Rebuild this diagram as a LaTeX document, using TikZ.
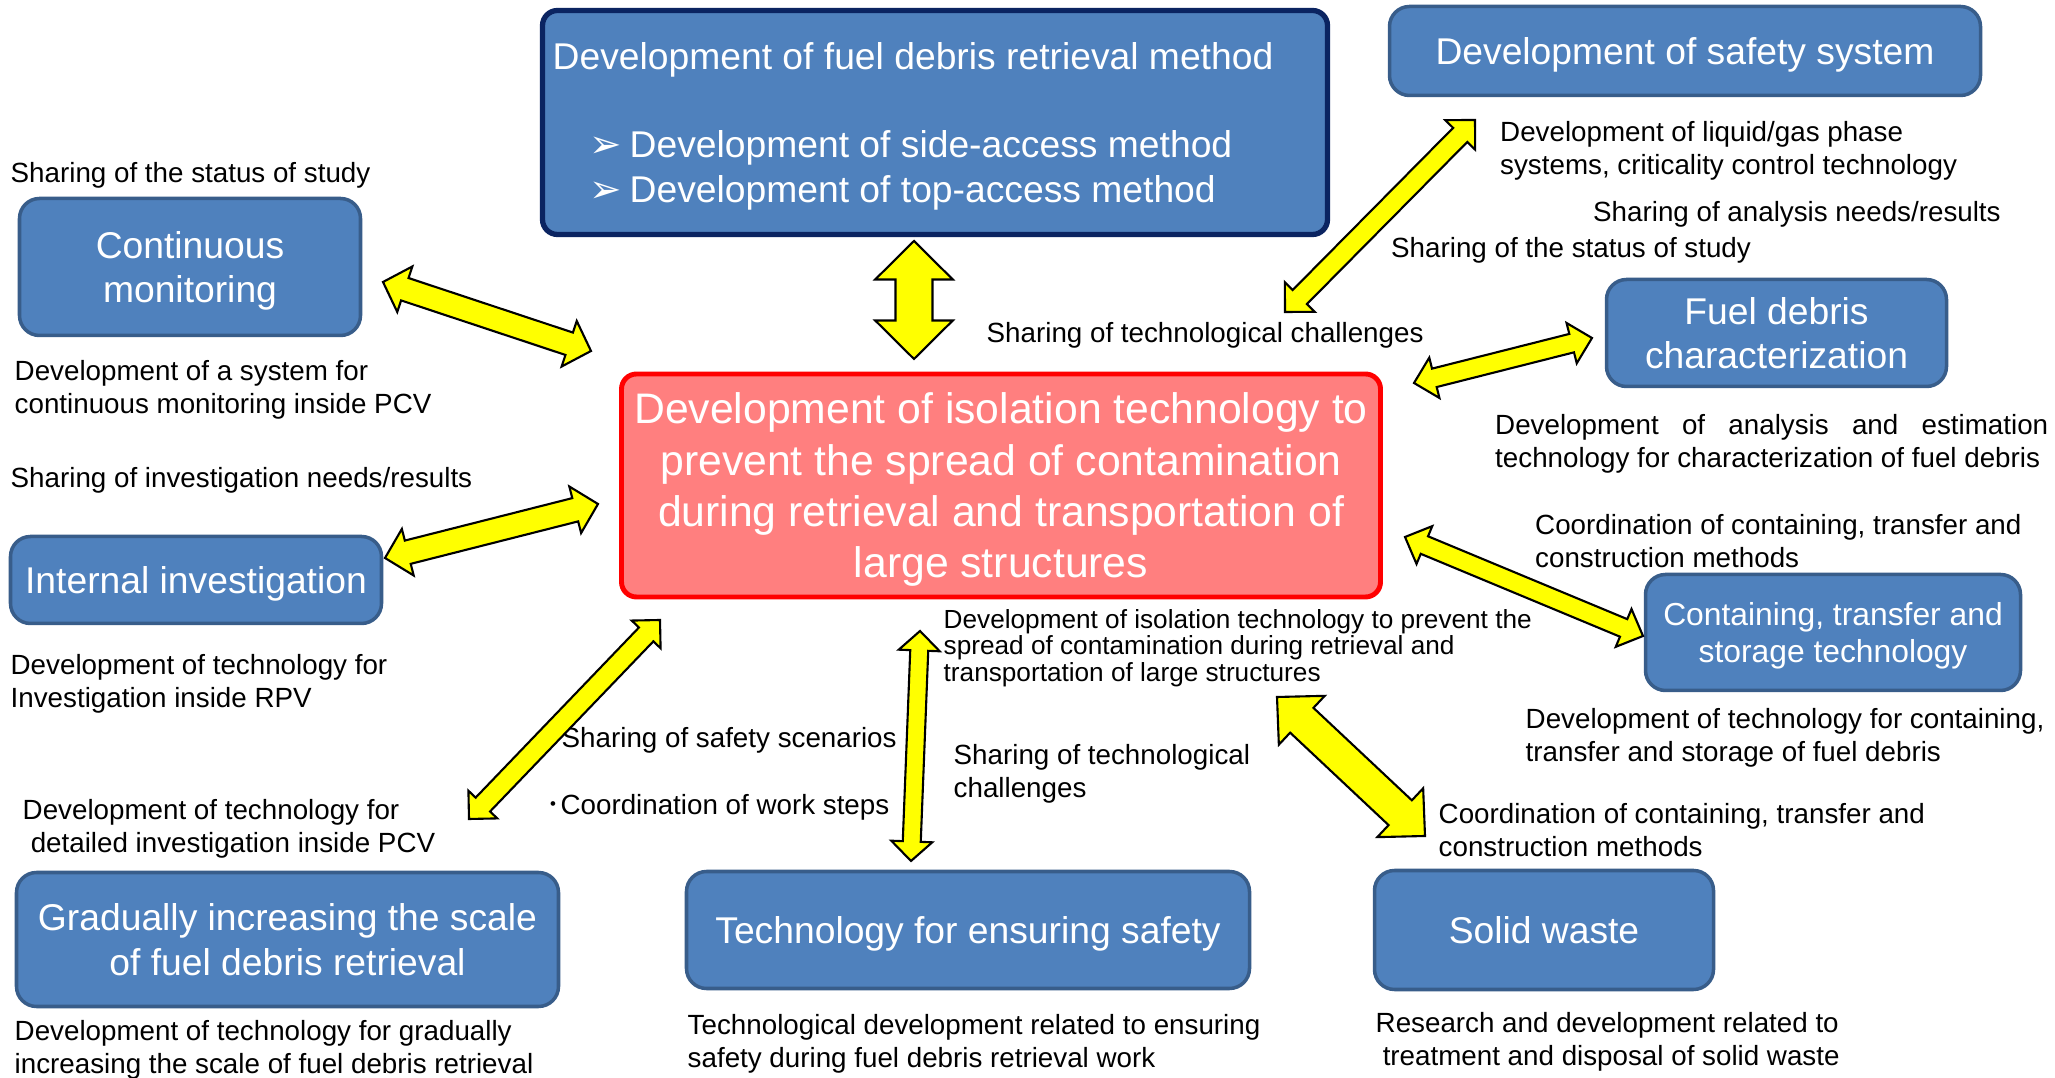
\documentclass[tikz,border=0pt]{standalone}
\usepackage{fontspec}
\setmainfont{Liberation Sans}
\newfontfamily\symfont{DejaVu Sans}
\newfontfamily\cjkfont{Noto Sans CJK JP}
\usepackage{tikz}
\usetikzlibrary{calc}

\definecolor{boxblue}{HTML}{4F81BD}
\definecolor{boxedge}{HTML}{385D8A}
\definecolor{navyedge}{HTML}{0B2461}
\definecolor{isofill}{HTML}{FF7F7F}
\definecolor{arrowyellow}{HTML}{FFFF00}

\tikzset{
  bluebox/.style={draw=boxedge,fill=boxblue,line width=1pt,rounded corners=0.2cm,text=white,align=center,inner sep=0pt,text depth=0pt,font=\fontsize{10.6}{12.7}\selectfont},
  note/.style={anchor=west,align=left,inner sep=0pt,font=\fontsize{7.9}{9.4}\selectfont},
  arrowbody/.style={draw=black,fill=arrowyellow,line width=0.6pt,line join=miter}
}

% double block arrow: ends, half shaft width, half head width, head length
\newcommand{\twowayarrow}[5]{%
  \draw[arrowbody] (#1)
    -- ($(#1)!#5!(#2)!#4!90:(#2)$) -- ($(#1)!#5!(#2)!#3!90:(#2)$)
    -- ($(#2)!#5!(#1)!#3!-90:(#1)$) -- ($(#2)!#5!(#1)!#4!-90:(#1)$)
    -- (#2)
    -- ($(#2)!#5!(#1)!#4!90:(#1)$) -- ($(#2)!#5!(#1)!#3!90:(#1)$)
    -- ($(#1)!#5!(#2)!#3!-90:(#2)$) -- ($(#1)!#5!(#2)!#4!-90:(#2)$)
    -- cycle;}

\begin{document}
\begin{tikzpicture}
  \path[use as bounding box,fill=white] (0,0) rectangle (20.55,-10.78);
  %centre
  \node[bluebox,name=iso,at={(10.01,-4.855)},draw=red,fill=isofill,line width=1.4pt,rounded corners=0.15cm,minimum width=7.59cm,minimum height=2.23cm,font=\fontsize{12.15}{14.6}\selectfont]{Development of isolation technology to\\prevent the spread of contamination\\during retrieval and transportation of\\large structures};
  %top
  \node[bluebox,name=retr,at={(9.35,-1.225)},draw=navyedge,line width=1.5pt,rounded corners=0.15cm,minimum width=7.85cm,minimum height=2.24cm]{};
  \node[note,name=retr-title,anchor=base west,text=white,font=\fontsize{10.6}{12.3}\selectfont,at={(5.52,-0.70)}]{Development of fuel debris retrieval method};
  \node[note,name=retr-b1,anchor=base west,text=white,font=\symfont\fontsize{11}{12}\selectfont,at={(5.89,-1.58)}]{➢};
  \node[note,name=retr-side,anchor=base west,text=white,font=\fontsize{10.6}{12.3}\selectfont,at={(6.29,-1.58)}]{Development of side-access method};
  \node[note,name=retr-b2,anchor=base west,text=white,font=\symfont\fontsize{11}{12}\selectfont,at={(5.89,-2.03)}]{➢};
  \node[note,name=retr-top,anchor=base west,text=white,font=\fontsize{10.6}{12.3}\selectfont,at={(6.29,-2.03)}]{Development of top-access method};
  \node[bluebox,name=safe,at={(16.85,-0.51)},minimum width=5.91cm,minimum height=0.89cm]{Development of safety system};
  %left
  \node[bluebox,name=cont,at={(1.90,-2.67)},minimum width=3.41cm,minimum height=1.37cm]{Continuous\\monitoring};
  \node[bluebox,name=inv,at={(1.96,-5.80)},minimum width=3.71cm,minimum height=0.87cm]{Internal investigation};
  %right
  \node[bluebox,name=fuel,at={(17.765,-3.33)},minimum width=3.40cm,minimum height=1.07cm]{Fuel debris\\characterization};
  \node[bluebox,name=store,at={(18.33,-6.325)},minimum width=3.75cm,minimum height=1.16cm,font=\fontsize{9.05}{10.8}\selectfont]{Containing, transfer and\\storage technology};
  %bottom
  \node[bluebox,name=grad,at={(2.875,-9.395)},minimum width=5.42cm,minimum height=1.34cm]{Gradually increasing the scale\\of fuel debris retrieval};
  \node[bluebox,name=ens,at={(9.68,-9.30)},minimum width=5.63cm,minimum height=1.17cm]{Technology for ensuring safety};
  \node[bluebox,name=waste,at={(15.44,-9.30)},minimum width=3.39cm,minimum height=1.19cm]{Solid waste};

  %texts
  \node[note,name=cont-share,at={(0.10,-1.75)}]{Sharing of the status of study};
  \node[note,name=cont-desc,at={(0.14,-3.90)}]{Development of a system for\\continuous monitoring inside PCV};
  \node[note,name=inv-share,at={(0.10,-4.80)}]{Sharing of investigation needs/results};
  \node[note,name=inv-desc,at={(0.10,-6.835)}]{Development of technology for\\Investigation inside RPV};
  \node[note,name=pcv-desc,at={(0.22,-8.29)}]{Development of technology for\\\hspace*{2.3pt}detailed investigation inside PCV};
  \node[note,name=grad-desc,at={(0.14,-10.50)}]{Development of technology for gradually\\increasing the scale of fuel debris retrieval};
  \node[note,name=grad-share,at={(5.61,-7.40)}]{Sharing of safety scenarios};
  \node[note,name=grad-steps,at={(5.46,-8.07)}]{{\cjkfont ･}Coordination of work steps};
  \node[note,name=ens-share,at={(9.53,-7.74)}]{Sharing of technological\\challenges};
  \node[note,name=iso-desc,at={(9.43,-6.48)},font=\fontsize{7.45}{7.5}\selectfont]{Development of isolation technology to prevent the\\spread of contamination during retrieval and\\transportation of large structures};
  \node[note,name=retr-share,at={(9.86,-3.35)}]{Sharing of technological challenges};
  \node[note,name=safe-share,at={(13.905,-2.50)}]{Sharing of the status of study};
  \node[note,name=safe-desc,at={(14.995,-1.51)}]{Development of liquid/gas phase\\systems, criticality control technology};
  \node[note,name=fuel-share,at={(15.925,-2.14)}]{Sharing of analysis needs/results};
  \node[note,name=fuel-desc,at={(14.945,-4.44)}]{\makebox[5.53cm][s]{Development of analysis and estimation}\\technology for characterization of fuel debris};
  \node[note,name=store-share,at={(15.345,-5.41)}]{Coordination of containing, transfer and\\construction methods};
  \node[note,name=store-desc,at={(15.25,-7.375)}]{Development of technology for containing,\\transfer and storage of fuel debris};
  \node[note,name=waste-share,at={(14.38,-8.30)}]{Coordination of containing, transfer and\\construction methods};
  \node[note,name=ens-desc,at={(6.87,-10.44)}]{Technological development related to ensuring\\safety during fuel debris retrieval work};
  \node[note,name=waste-desc,at={(13.75,-10.42)}]{Research and development related to\\\hspace*{2pt}treatment and disposal of solid waste};

  %arrows
  \coordinate (contA) at (3.83,-2.82);   \coordinate (contB) at (5.91,-3.51);
  \coordinate (retrA) at (9.14,-2.41);   \coordinate (retrB) at (9.14,-3.59);
  \coordinate (safeA) at (14.75,-1.20);  \coordinate (safeB) at (12.85,-3.12);
  \coordinate (fuelA) at (15.92,-3.38);  \coordinate (fuelB) at (14.14,-3.83);
  \coordinate (invA) at (3.85,-5.58);    \coordinate (invB) at (5.98,-5.04);
  \coordinate (gradA) at (6.60,-6.20);   \coordinate (gradB) at (4.69,-8.19);
  \coordinate (ensA) at (9.20,-6.31);    \coordinate (ensB) at (9.11,-8.61);
  \coordinate (storeA) at (14.05,-5.37); \coordinate (storeB) at (16.43,-6.36);
  \coordinate (wasteA) at (12.77,-6.97); \coordinate (wasteB) at (14.25,-8.36);
  \twowayarrow{contA}{contB}{0.118cm}{0.24cm}{0.23cm}
  \twowayarrow{retrA}{retrB}{0.185cm}{0.388cm}{0.385cm}
  \twowayarrow{safeA}{safeB}{0.10cm}{0.21cm}{0.21cm}
  \twowayarrow{fuelA}{fuelB}{0.095cm}{0.208cm}{0.21cm}
  \twowayarrow{invA}{invB}{0.12cm}{0.24cm}{0.235cm}
  \twowayarrow{gradA}{gradB}{0.10cm}{0.20cm}{0.20cm}
  \twowayarrow{ensA}{ensB}{0.09cm}{0.205cm}{0.195cm}
  \twowayarrow{storeA}{storeB}{0.095cm}{0.205cm}{0.21cm}
  \twowayarrow{wasteA}{wasteB}{0.17cm}{0.335cm}{0.34cm}
\end{tikzpicture}
\end{document}
